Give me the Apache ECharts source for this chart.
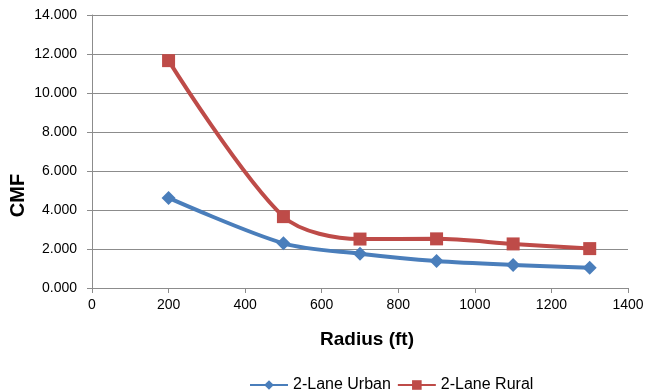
<!DOCTYPE html>
<html>
<head>
<meta charset="utf-8">
<script src="https://cdn.jsdelivr.net/npm/echarts@6/dist/echarts.min.js"></script>
<style>
  html, body { margin: 0; padding: 0; background: #fff; }
  #chart { width: 649px; height: 392px; }
</style>
</head>
<body>
<div id="chart"></div>
<script>
var radius = [200, 500, 700, 900, 1100, 1300];
var urban = [4.62, 2.29, 1.76, 1.38, 1.18, 1.04];
var rural = [11.66, 3.66, 2.51, 2.52, 2.26, 2.02];

function pairs(xs, ys) {
    var out = [];
    for (var i = 0; i < xs.length; i++) {
        out.push([xs[i], ys[i]]);
    }
    return out;
}

var myChart = echarts.init(document.getElementById('chart'));
var font = 'Liberation Sans';
var axisGray = '#8c8c8c';
var option = {
    animation: false,
    textStyle: { fontFamily: font },
    grid: { left: 92, right: 21, top: 15, bottom: 104, outerBoundsMode: 'none' },
    legend: {
        top: 372,
        left: 244,
        itemWidth: 38,
        itemHeight: 12,
        itemGap: 6,
        textStyle: { fontSize: 16, color: '#000', fontFamily: font },
        data: ['2-Lane Urban', '2-Lane Rural']
    },
    xAxis: {
        type: 'value',
        min: 0, max: 1400, interval: 200,
        name: 'Radius (ft)',
        nameLocation: 'middle',
        nameGap: 42,
        nameTextStyle: { fontSize: 19, fontWeight: 'bold', color: '#000', padding: [0, 0, 0, 14] },
        axisLine: { lineStyle: { color: axisGray } },
        axisTick: { show: true, length: 5, lineStyle: { color: axisGray } },
        axisLabel: {
            fontSize: 14, color: '#000', margin: 10,
            formatter: function(v) { return String(v); }
        },
        splitLine: { show: false }
    },
    yAxis: {
        type: 'value',
        min: 0, max: 14, interval: 2,
        name: 'CMF',
        nameLocation: 'middle',
        nameMoveOverlap: false,
        nameGap: 64,
        nameTextStyle: { fontSize: 20, fontWeight: 'bold', color: '#000', padding: [0, 88, 0, 0] },
        axisLine: { show: true, lineStyle: { color: axisGray } },
        axisTick: { show: true, inside: false, length: 5, lineStyle: { color: axisGray } },
        axisLabel: {
            fontSize: 14, color: '#000', margin: 15,
            formatter: function(v) { return v.toFixed(3); }
        },
        splitLine: { lineStyle: { color: axisGray, width: 1 } }
    },
    series: [{
        name: '2-Lane Urban',
        type: 'line',
        data: pairs(radius, urban),
        smooth: 0.3,
        symbol: 'diamond',
        symbolSize: 14,
        itemStyle: { color: '#4a7ebb' },
        lineStyle: { color: '#4a7ebb', width: 4 }
    }, {
        name: '2-Lane Rural',
        type: 'line',
        data: pairs(radius, rural),
        smooth: 0.3,
        symbol: 'rect',
        symbolSize: 13,
        itemStyle: { color: '#be4b48' },
        lineStyle: { color: '#be4b48', width: 4 }
    }]
};
myChart.setOption(option);
</script>
</body>
</html>
